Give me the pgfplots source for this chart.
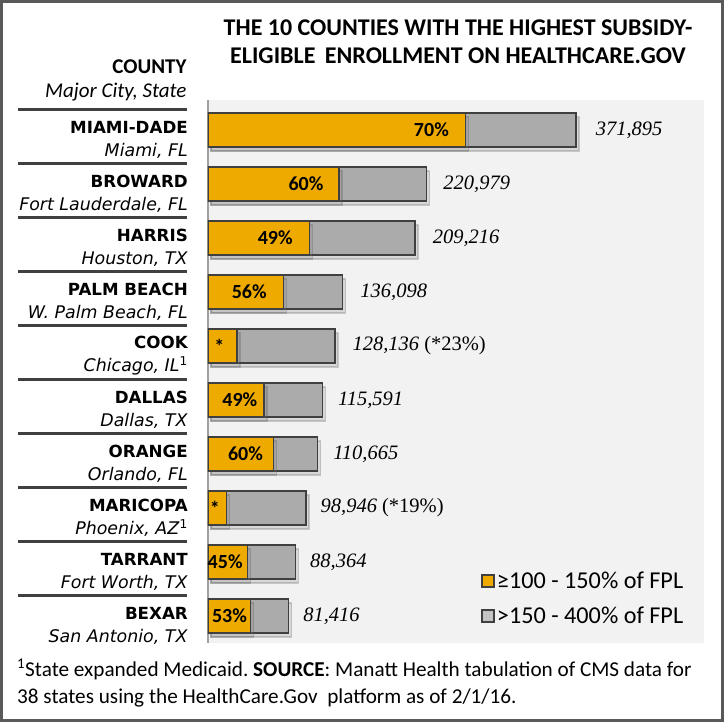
\documentclass[border=0pt]{standalone}
\usepackage{pgfplots}
\pgfplotsset{compat=1.18}
\usepackage{pgfplotstable}
\usepackage{fontspec}
\setmainfont{Carlito}
\newfontfamily\verd{DejaVu Sans}
\newfontfamily\valfont{Liberation Serif}
\usetikzlibrary{shadows}
\frenchspacing
\definecolor{barorange}{HTML}{EFAA00}
\definecolor{bargray}{HTML}{ABABAB}
\definecolor{leggray}{HTML}{C4C4C4}
\definecolor{edge}{HTML}{404040}
\definecolor{bg}{HTML}{F2F2F2}
\definecolor{frame}{HTML}{595959}
\definecolor{axgray}{HTML}{A0A0A0}

\pgfplotstableread[col sep=semicolon]{
idx;low;total;lowlab;sh;tot;vsh
0;260327;371895;70\%;-16;371,895;19
1;132587;220979;60\%;-15;220,979;16
2;102516;209216;49\%;-16;209,216;17
3;76215;136098;56\%;-16;136,098;17
4;29471;128136;*;-12;128,136 {\upshape(*23\%)};17
5;56640;115591;49\%;-6;115,591;15
6;66399;110665;60\%;-10;110,665;15
7;18800;98946;*;-6;98,946 {\upshape(*19\%)};14
8;39764;88364;45\%;-4;88,364;14
9;43150;81416;53\%;-3;81,416;14
}\datatable

\newcommand{\cty}[1]{{\fontsize{16.7}{23}\selectfont\bfseries #1}}
\begin{document}
\begin{tikzpicture}
\draw[line width=3pt, color=frame] (1.5pt,1.5pt) rectangle (722.5pt,720.5pt);
\begin{axis}[
  at={(208pt,79pt)}, anchor=south west,
  width=496pt, height=543pt, scale only axis,
  xbar, bar width=34pt, bar shift=0pt,
  y dir=reverse,
  xmin=0, xmax=501250,
  ymin=-0.556, ymax=9.5,
  axis x line=none,
  axis y line*=left,
  axis line style={-, line width=2pt, color=axgray},
  axis background/.style={fill=bg},
  xtick=\empty,
  ytick={0,...,9},
  major tick length=0pt,
  yticklabels={
    {\cty{MIAMI-DADE}\\\textit{Miami, FL}},
    {\cty{BROWARD}\\\textit{Fort Lauderdale, FL}},
    {\cty{HARRIS}\\\textit{Houston, TX}},
    {\cty{PALM BEACH}\\\textit{W. Palm Beach, FL}},
    {\cty{COOK}\\\textit{Chicago, IL}\textsuperscript{1}},
    {\cty{DALLAS}\\\textit{Dallas, TX}},
    {\cty{ORANGE}\\\textit{Orlando, FL}},
    {\cty{MARICOPA}\\\textit{Phoenix, AZ}\textsuperscript{1}},
    {\cty{TARRANT}\\\textit{Fort Worth, TX}},
    {\cty{BEXAR}\\\textit{San Antonio, TX}}
  },
  yticklabel style={font=\verd\fontsize{17.4}{23}\selectfont, align=right, anchor=east, xshift=-20pt, yshift=-10pt, inner sep=0pt},
  legend style={at={(axis description cs:0.551,0.135)}, anchor=north west, draw=none, fill=none,
    font=\fontsize{24.2}{26}\selectfont, row sep=13pt, inner sep=0pt},
  legend cell align=left,
  legend image code/.code={\draw[#1, draw=edge, line width=1.5pt] (-3pt,-6pt) rectangle (9pt,6pt);},
]
\addlegendimage{fill=barorange}
\addlegendimage{fill=leggray}
\addplot[forget plot, fill=bargray, draw=edge, line width=1.5pt,
  drop shadow={shadow xshift=3pt, shadow yshift=-4pt, opacity=0.22},
  point meta=explicit symbolic,
  visualization depends on={\thisrow{vsh} \as \vsh},
  nodes near coords,
  every node near coord/.append style={anchor=west, inner sep=0pt, xshift=\vsh pt, font=\valfont\itshape\fontsize{20.5}{24}\selectfont, text=black}
] table[x=total, y=idx, meta=tot] {\datatable};
\addplot[forget plot, fill=barorange, draw=edge, line width=1.5pt,
  drop shadow={shadow xshift=3pt, shadow yshift=-4pt, opacity=0.22},
  point meta=explicit symbolic,
  visualization depends on={\thisrow{sh} \as \sh},
  nodes near coords,
  every node near coord/.append style={anchor=east, inner sep=0pt, xshift=\sh pt, font=\bfseries\fontsize{20}{24}\selectfont, text=black}
] table[x=low, y=idx, meta=lowlab] {\datatable};
\legend{≥100 - 150\% of FPL, >150 - 400\% of FPL}
\end{axis}
% title
\node[align=center, font=\bfseries\fontsize{24}{28}\selectfont] at (458pt,680pt) {THE 10 COUNTIES WITH THE HIGHEST SUBSIDY-\\ELIGIBLE\, ENROLLMENT ON HEALTHCARE.GOV};
% header
\node[anchor=east, font=\bfseries\fontsize{21}{24}\selectfont] at (190pt,655pt) {COUNTY};
\node[anchor=east, font=\itshape\fontsize{21}{24}\selectfont] at (190pt,630pt) {Major City, State};
% separators
\foreach \i in {0,...,9} {
  \pgfmathsetmacro{\yy}{612-54*\i}
  \draw[line width=3pt, color=edge] (18pt,\yy pt) -- (187pt,\yy pt);
}
% footnote
\node[anchor=north west, align=left, font=\fontsize{21.2}{27}\selectfont, inner sep=0pt] at (17pt,63pt)
 {\textsuperscript{1}State expanded Medicaid. \textbf{SOURCE}: Manatt Health tabulation of CMS data for\\38 states using the HealthCare.Gov\ \ platform as of 2/1/16.};
\end{tikzpicture}
\end{document}
